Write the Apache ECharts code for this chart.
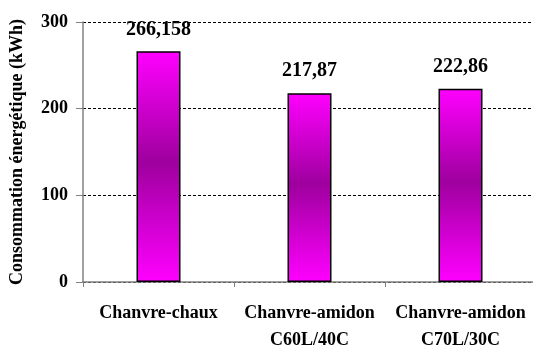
<!DOCTYPE html>
<html>
<head>
<meta charset="utf-8">
<script src="https://cdn.jsdelivr.net/npm/echarts@6/dist/echarts.min.js"></script>
<style>html,body{margin:0;padding:0;background:#fff}#c{width:533px;height:349px}</style>
</head>
<body>
<div id="c"></div>
<script>
var categories = ['Chanvre-chaux', 'Chanvre-amidon\nC60L/40C', 'Chanvre-amidon\nC70L/30C'];
var values = [266.158, 217.87, 222.86];
var valueLabels = ['266,158', '217,87', '222,86'];
var yTicks = [0, 100, 200, 300];
var yName = 'Consommation énergétique (kWh)';

var chart = echarts.init(document.getElementById('c'), null, {renderer: 'canvas'});
var font = '"Liberation Serif", "Times New Roman", serif';
chart.setOption({
  animation: false,
  backgroundColor: '#ffffff',
  grid: {left: 83, top: 22, width: 453, height: 260, containLabel: false, outerBoundsMode: 'none'},
  xAxis: {
    type: 'category',
    data: categories,
    axisLine: {lineStyle: {color: '#808080', width: 1.5}},
    axisTick: {show: true, length: 5, lineStyle: {color: '#808080'}},
    axisLabel: {interval: 0, color: '#000', fontFamily: font, fontWeight: 'bold', fontSize: 18, lineHeight: 27, margin: 18}
  },
  yAxis: {
    type: 'value',
    min: yTicks[0],
    max: yTicks[yTicks.length - 1],
    interval: 100,
    name: yName,
    nameLocation: 'middle',
    nameGap: 57,
    nameTextStyle: {color: '#000', fontFamily: font, fontWeight: 'bold', fontSize: 18},
    axisLine: {show: true, lineStyle: {color: '#808080', width: 1.5}},
    axisTick: {show: true, length: 7, lineStyle: {color: '#808080'}},
    axisLabel: {color: '#000', fontFamily: font, fontWeight: 'bold', fontSize: 18, margin: 15},
    splitLine: {show: true, lineStyle: {color: '#000', type: [3, 2], width: 1}}
  },
  series: [{
    type: 'bar',
    data: values,
    barWidth: 44,
    itemStyle: {
      borderColor: '#000',
      borderWidth: 1.5,
      color: new echarts.graphic.LinearGradient(0, 0, 0, 1, [
        {offset: 0, color: '#FF00FF'},
        {offset: 0.48, color: '#9E009E'},
        {offset: 1, color: '#FF00FF'}
      ])
    },
    label: {
      show: true,
      position: 'top',
      distance: 12,
      color: '#000',
      fontFamily: font,
      fontWeight: 'bold',
      fontSize: 20,
      formatter: function (p) { return valueLabels[p.dataIndex]; }
    }
  }]
});
</script>
</body>
</html>
